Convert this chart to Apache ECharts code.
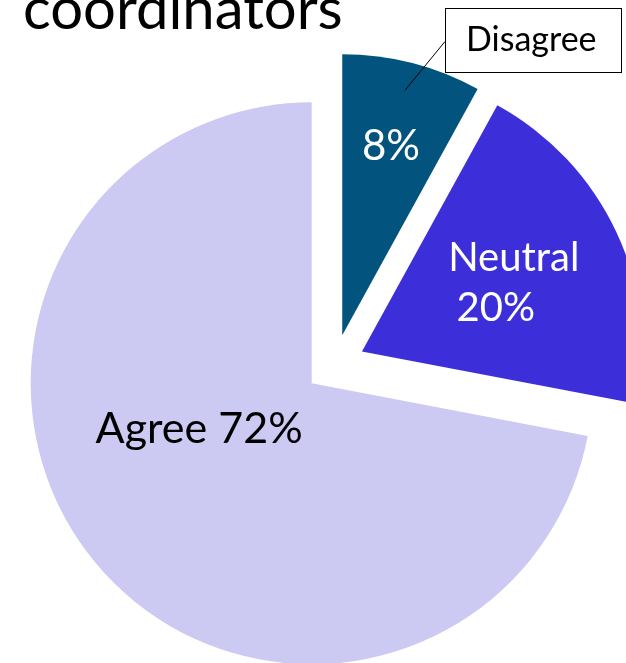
<!DOCTYPE html>
<html><head><meta charset="utf-8">
<script src="https://cdn.jsdelivr.net/npm/echarts@6/dist/echarts.min.js"></script>
<style>html,body{margin:0;padding:0;background:#fff}#c{width:626px;height:663px}</style>
</head><body><div id="c"></div>
<script>
const titleText = 'coordinators';
const categories = ['Disagree', 'Neutral', 'Agree'];
const values = [8, 20, 72];
const sliceColors = ['#03537F', '#3C2ED9', '#CCC9F2'];
const labelColors = ['#FFFFFF', '#FFFFFF', '#000000'];

const FONT = 'Lato';
const CENTER = [334.8, 364.2];
const RADIUS = 281;
const OFFSET = 30;
// label nudges relative to default inside positions
const nudges = [[13, -50], [22, -7], [-2, -46]];
// callout box top-left and leader-line end
const CALLOUT_BOX = [445, 8];
const CALLOUT_LINE_END = [445, 41.5];

function insideText(i) {
  if (i === 0) return values[i] + '%';
  if (i === 1) return '{n|' + categories[i] + '}\n{p|' + values[i] + '%}';
  return categories[i] + ' ' + values[i] + '%';
}

const mainData = categories.map((c, i) => ({
  name: c,
  value: values[i],
  selected: true,
  itemStyle: { color: sliceColors[i] },
  label: {
    show: true,
    position: 'inside',
    formatter: insideText(i),
    color: labelColors[i],
    fontFamily: FONT,
    fontSize: i === 2 ? 43 : 42,
    rich: {
      n: { color: labelColors[i], fontFamily: FONT, fontSize: 40, lineHeight: 50 },
      p: { color: labelColors[i], fontFamily: FONT, fontSize: 40, lineHeight: 50, padding: [0, 36, 0, 0] }
    }
  }
}));

const calloutData = categories.map((c, i) => ({
  name: c,
  value: values[i],
  selected: true,
  itemStyle: { color: 'rgba(0,0,0,0)' },
  label: i === 0 ? {
    show: true,
    position: 'outside',
    formatter: c,
    color: '#000',
    fontFamily: FONT,
    fontSize: 34,
    lineHeight: 63,
    width: 155,
    align: 'left',
    backgroundColor: '#fff',
    borderColor: '#000',
    borderWidth: 1,
    padding: [0, 0, 0, 20]
  } : { show: false },
  labelLine: i === 0 ? { show: true, lineStyle: { color: '#000', width: 1 } } : { show: false }
}));

const total = values.reduce((a, b) => a + b, 0);
const midA = values[0] / total * Math.PI; // half of the first slice's angle
const off = [OFFSET * Math.sin(midA), -OFFSET * Math.cos(midA)];

const chart = echarts.init(document.getElementById('c'), null, { renderer: 'canvas' });
chart.setOption({
  animation: false,
  backgroundColor: '#fff',
  textStyle: { fontFamily: FONT },
  title: {
    text: titleText,
    left: 18,
    top: -24,
    textStyle: { fontFamily: FONT, fontSize: 58, fontWeight: 'normal', color: '#000' }
  },
  series: [
    {
      type: 'pie',
      center: CENTER,
      radius: RADIUS,
      startAngle: 90,
      clockwise: true,
      selectedMode: 'multiple',
      selectedOffset: OFFSET,
      emphasis: { disabled: true },
      silent: true,
      labelLine: { show: false },
      labelLayout: function (p) {
        const n = nudges[p.dataIndex];
        return { dx: n[0], dy: n[1] };
      },
      data: mainData
    },
    {
      type: 'pie',
      center: CENTER,
      radius: 253,
      startAngle: 90,
      clockwise: true,
      selectedMode: 'multiple',
      selectedOffset: OFFSET,
      emphasis: { disabled: true },
      silent: true,
      z: 5,
      labelLayout: function (p) {
        if (p.dataIndex !== 0) return {};
        const p0 = p.labelLinePoints[0];
        const end = [CALLOUT_LINE_END[0] - off[0], CALLOUT_LINE_END[1] - off[1]];
        return {
          dx: CALLOUT_BOX[0] - off[0] - p.labelRect.x,
          dy: CALLOUT_BOX[1] - off[1] - p.labelRect.y,
          labelLinePoints: [p0, end, end]
        };
      },
      data: calloutData
    }
  ]
});
</script>
</body></html>
